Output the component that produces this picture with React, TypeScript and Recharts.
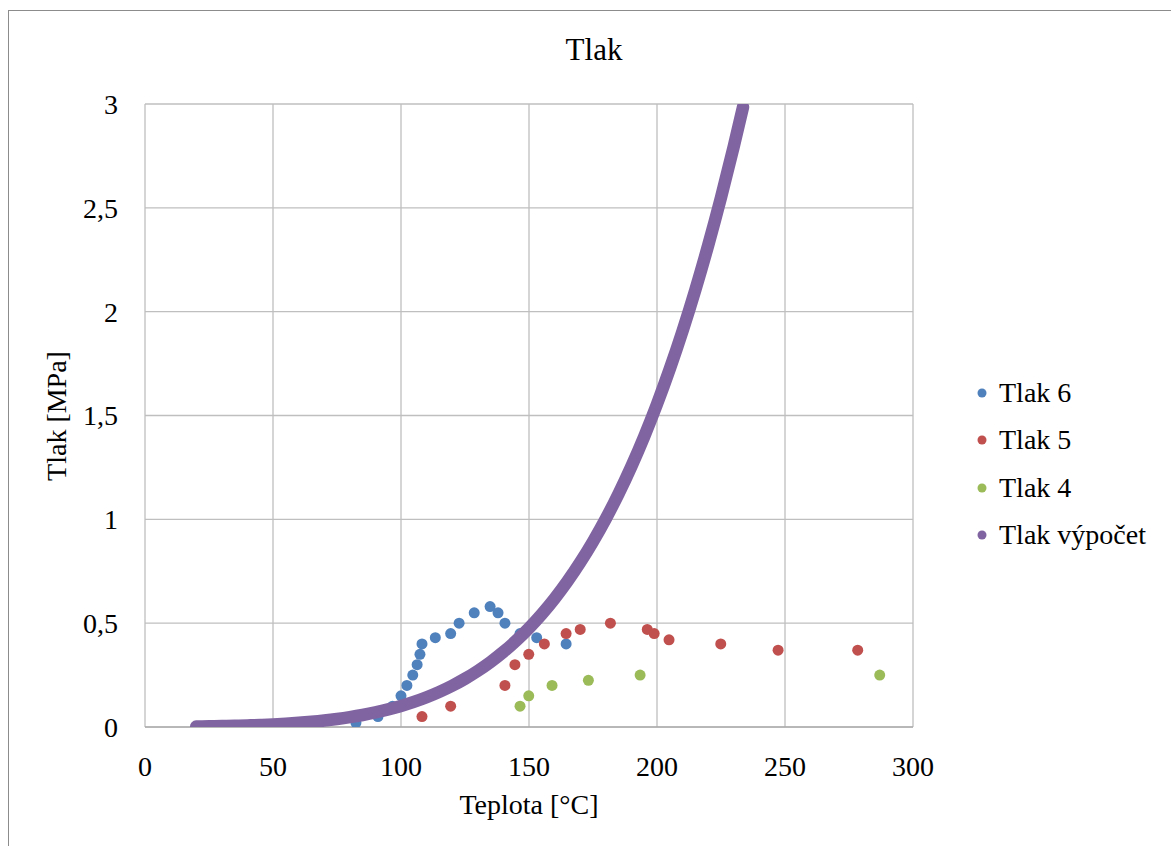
import React from 'react';
import {
  ScatterChart, Scatter, XAxis, YAxis, CartesianGrid,
} from 'recharts';

// Tlak 6 (measured)
const tlak6T = [82.4, 91, 96.7, 100, 102.3, 104.6, 106.3, 107.4, 108.2, 113.4, 119.4, 122.7, 128.6, 134.8, 137.9, 140.6, 146.5, 153, 164.5];
const tlak6P = [0.02, 0.05, 0.1, 0.15, 0.2, 0.25, 0.3, 0.35, 0.4, 0.43, 0.45, 0.5, 0.55, 0.58, 0.55, 0.5, 0.45, 0.43, 0.4];

// Tlak 5 (measured)
const tlak5T = [108.2, 119.4, 140.6, 144.5, 149.9, 156, 164.5, 170, 181.8, 196.2, 198.9, 204.7, 224.9, 247.3, 278.4];
const tlak5P = [0.05, 0.1, 0.2, 0.3, 0.35, 0.4, 0.45, 0.47, 0.5, 0.47, 0.45, 0.42, 0.4, 0.37, 0.37];

// Tlak 4 (measured)
const tlak4T = [146.5, 149.9, 159, 173.2, 193.4, 287];
const tlak4P = [0.1, 0.15, 0.2, 0.225, 0.25, 0.25];

// Tlak výpočet - saturation pressure of water [MPa]
const vypocetT = [20, 25, 30, 35, 40, 45, 50, 55, 60, 65, 70, 75, 80, 85, 90, 95, 100, 105, 110, 115, 120, 125, 130, 135, 140, 145, 150, 155, 160, 165, 170, 175, 180, 185, 190, 195, 200, 205, 210, 215, 220, 225, 230, 233.6];
const vypocetP = [0.00234, 0.00317, 0.00425, 0.00563, 0.00739, 0.0096, 0.01235, 0.01576, 0.01995, 0.02504, 0.0312, 0.0386, 0.04742, 0.05787, 0.07018, 0.08461, 0.10142, 0.1209, 0.14338, 0.16918, 0.19867, 0.23223, 0.27028, 0.31322, 0.36153, 0.41568, 0.47616, 0.54349, 0.61823, 0.70093, 0.79218, 0.8926, 1.0028, 1.1235, 1.2552, 1.3988, 1.5549, 1.7243, 1.9077, 2.1059, 2.3196, 2.5497, 2.7971, 2.985];

const xTicks = [0, 50, 100, 150, 200, 250, 300];
const yTicks = [0, 0.5, 1, 1.5, 2, 2.5, 3];

const zip = (t: number[], p: number[]) => t.map((x, i) => ({ t: x, p: p[i] }));

const SERIES = [
  { name: 'Tlak 6', color: '#4f81bd', data: zip(tlak6T, tlak6P) },
  { name: 'Tlak 5', color: '#c0504d', data: zip(tlak5T, tlak5P) },
  { name: 'Tlak 4', color: '#9bbb59', data: zip(tlak4T, tlak4P) },
];
const vypocet = zip(vypocetT, vypocetP);
const PURPLE = '#8064a2';

const FONT = '"Liberation Serif", "Times New Roman", serif';

const LEGEND_ITEMS = [...SERIES.map(s => ({ name: s.name, color: s.color })), { name: 'Tlak výpočet', color: PURPLE }];

const fmt = (v: number) => String(v).replace('.', ',');

export default function App() {
  return (
    <div style={{ position: 'relative', width: 1171, height: 846, overflow: 'hidden', background: '#fff', fontFamily: FONT }}>
      <style>{'body{margin:0;overflow:hidden} .recharts-text{font-family:"Liberation Serif","Times New Roman",serif}'}</style>
      <div style={{
        position: 'absolute', left: 8, top: 10, width: 1180, height: 850,
        borderTop: '1px solid #8c8c8c', borderLeft: '1px solid #8c8c8c',
      }} />
      <div style={{
        position: 'absolute', left: 0, top: 32, width: 1188, textAlign: 'center',
        fontSize: 31, color: '#000',
      }}>Tlak</div>
      <div style={{
        position: 'absolute', left: 57, top: 416, transform: 'translate(-50%, -50%) rotate(-90deg)',
        fontSize: 28, whiteSpace: 'nowrap', color: '#000',
      }}>Tlak [MPa]</div>
      <div style={{
        position: 'absolute', left: 529, top: 805, transform: 'translate(-50%, -50%)',
        fontSize: 28, whiteSpace: 'nowrap', color: '#000',
      }}>Teplota [°C]</div>
      <div style={{ position: 'absolute', left: 977, top: 369, fontSize: 28, color: '#000' }}>
        {LEGEND_ITEMS.map(it => (
          <div key={it.name} style={{ display: 'flex', alignItems: 'center', height: 47.5 }}>
            <svg width={10} height={10} style={{ marginRight: 12 }}>
              <circle cx={5} cy={5} r={4.5} fill={it.color} />
            </svg>
            <span style={{ lineHeight: '28px' }}>{it.name}</span>
          </div>
        ))}
      </div>
      <div style={{ position: 'absolute', left: 0, top: 0 }}>
        <ScatterChart width={1171} height={846} margin={{ top: 104, right: 258, bottom: 79, left: 85 }}
          style={{ fontFamily: FONT }}>
          <CartesianGrid stroke="#bfbfbf" strokeWidth={1.3} horizontalValues={yTicks} verticalValues={xTicks} />
          <XAxis
            type="number" dataKey="t" domain={[0, 300]} ticks={xTicks} height={40}
            allowDataOverflow tickLine={false} stroke="#a0a0a0" tickMargin={23}
            tick={{ fill: '#000', fontSize: 28, fontFamily: FONT }}
          />
          <YAxis
            type="number" dataKey="p" domain={[0, 3]} ticks={yTicks} width={60}
            allowDataOverflow tickLine={false} axisLine={false} tickMargin={21} tickFormatter={fmt}
            tick={{ fill: '#000', fontSize: 28, fontFamily: FONT }}
          />
          {SERIES.map(s => (
            <Scatter
              key={s.name} name={s.name} data={s.data} fill={s.color}
              isAnimationActive={false}
              shape={(props: any) => <circle cx={props.cx} cy={props.cy} r={5.5} fill={s.color} />}
            />
          ))}
          <Scatter
            name="Tlak výpočet" data={vypocet} fill={PURPLE}
            isAnimationActive={false}
            line={{ stroke: PURPLE, strokeWidth: 12.5, strokeLinecap: 'round', strokeLinejoin: 'round' }}
            lineJointType="monotoneX"
            shape={() => <g />}
          />
        </ScatterChart>
      </div>
    </div>
  );
}
